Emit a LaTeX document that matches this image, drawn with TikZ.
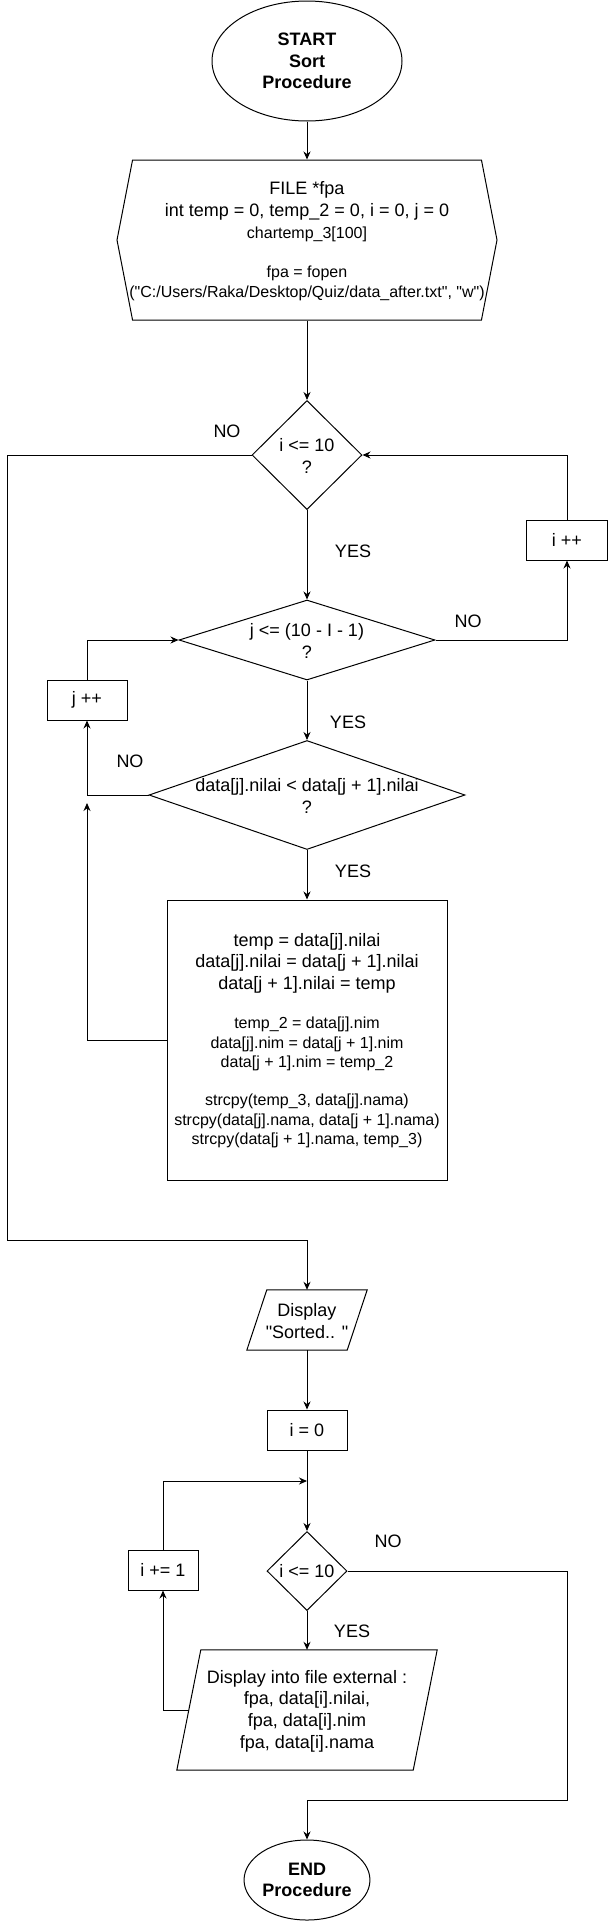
\documentclass[tikz,border=0pt]{standalone}
\usepackage{fontspec}
\setmainfont{Liberation Sans}[Ligatures=TeXOff]
\usetikzlibrary{arrows.meta,positioning,shapes.geometric,shapes.symbols,calc}

\newcommand{\bigtxt}{\fontsize{18}{21.6}\selectfont}
\newcommand{\smalltxt}{\fontsize{16}{19.5}\selectfont}

\tikzset{
  flow/.style={draw, line width=1pt, inner sep=0pt},
  terminal/.style={flow, ellipse, font=\bigtxt\bfseries, align=center},
  procbox/.style={flow, rectangle, font=\bigtxt, align=center},
  decision/.style={flow, diamond},
  iobox/.style={inner sep=0pt},
  arr/.style={line width=1pt, -{Stealth[length=8pt,width=7pt]}},
  lbl/.style={font=\bigtxt, align=center},
  small/.style={font=\smalltxt, align=center},
}

\begin{document}
\begin{tikzpicture}[x=1pt, y=-1pt]
\useasboundingbox (0,0) rectangle (609,1922);
\fill[white] (0,0) rectangle (609,1922);

% start + declarations
\node[terminal, minimum width=190pt, minimum height=120pt] (start) at (307,61) {START\\Sort\\Procedure};

\node[flow, signal, signal to=west and east, signal pointer angle=158, minimum width=380pt, minimum height=160pt] (init) at (307,240) {};
\node[lbl] at (307,201) {FILE *fpa\\ int temp = 0, temp\_2 = 0, i = 0, j = 0};
\node[small] at (307,264) {chartemp\_3[100]\\[19.5pt] fpa = fopen\\ ("C:/Users/Raka/Desktop/Quiz/data\_after.txt", "w")};

% outer loop
\node[decision, minimum width=110pt, minimum height=109pt] (cond1) at (307,455) {};
\node[lbl] at (307,456) {i <= 10\\?};

\node[procbox, minimum width=81pt, minimum height=40pt] (iinc) at (567,540) {i ++};

% inner loop
\node[decision, minimum width=256pt, minimum height=80pt] (cond2) at (307,640) {};
\node[lbl] at (307,641) {j <= (10 - I - 1)\\?};

\node[procbox, minimum width=80pt, minimum height=40pt] (jinc) at (87,700) {j ++};

\node[decision, minimum width=316pt, minimum height=109pt] (cond3) at (307,795) {};
\node[lbl] at (307,796) {data[j].nilai < data[j + 1].nilai\\?};

\node[procbox, minimum width=280pt, minimum height=280pt] (swap) at (307,1040) {};
\node[lbl] at (307,963) {temp = data[j].nilai\\ data[j].nilai = data[j + 1].nilai\\ data[j + 1].nilai = temp};
\node[small] at (307,1044) {temp\_2 = data[j].nim\\ data[j].nim = data[j + 1].nim\\ data[j + 1].nim = temp\_2};
\node[small] at (307,1121) {strcpy(temp\_3, data[j].nama)\\ strcpy(data[j].nama, data[j + 1].nama)\\ strcpy(data[j + 1].nama, temp\_3)};

% output
\node[iobox, minimum width=120pt, minimum height=60pt] (disp) at (307,1320) {};
\draw[line width=1pt] (disp.south west) -- ($(disp.north west)+(20,0)$) -- (disp.north east) -- ($(disp.south east)+(-20,0)$) -- cycle;
\node[lbl] at (307,1321) {Display\\"Sorted.. "};

\node[procbox, minimum width=80pt, minimum height=40pt] (izero) at (307,1430) {i = 0};

\node[decision, minimum width=80pt, minimum height=79pt] (cond4) at (307,1571) {};
\node[lbl] at (307,1571) {i <= 10};

\node[procbox, minimum width=70pt, minimum height=40pt] (ipl) at (163,1570) {i += 1};

\node[iobox, minimum width=260pt, minimum height=120pt] (outp) at (307,1710) {};
\draw[line width=1pt] (outp.south west) -- ($(outp.north west)+(24,0)$) -- (outp.north east) -- ($(outp.south east)+(-24,0)$) -- cycle;
\node[lbl] at (307,1711) {Display into file external :\\ fpa, data[i].nilai,\\ fpa, data[i].nim\\ fpa, data[i].nama};

\node[terminal, minimum width=120pt, minimum height=80pt] (stop) at (307,1880) {END\\Procedure};

\coordinate (nobend) at (7,1240);
\coordinate (nobend2) at (567,1800);
\coordinate (jback) at (87,803);
\coordinate (merge) at (307,1481);

% connectors
\draw[arr] (start) -- (init);
\draw[arr] (init) -- (cond1);
\draw[arr] (cond1) -- (cond2);
\draw[arr] (cond2) -- (cond3);
\draw[arr] (cond3) -- (swap);
\draw[arr] (cond2.east) -| (iinc.south);
\draw[arr] (iinc.north) |- (cond1.east);
\draw[arr] (cond3.west) -| (jinc.south);
\draw[arr] (jinc.north) |- (cond2.west);
\draw[arr] (swap.west) -| (jback);
\draw[arr] (cond1.west) -| (nobend) -| (disp.north);
\draw[arr] (disp) -- (izero);
\draw[arr] (izero) -- (cond4);
\draw[arr] (ipl.north) |- (merge);
\draw[arr] (cond4) -- (outp);
\draw[arr] ($(outp.west)+(12,0)$) -| (ipl.south);
\draw[arr] (cond4.east) -| (nobend2) -| (stop.north);

% labels
\node[lbl] at (227,431) {NO};
\node[lbl] at (353,551) {YES};
\node[lbl] at (468,621) {NO};
\node[lbl] at (348,722) {YES};
\node[lbl] at (130,761) {NO};
\node[lbl] at (353,871) {YES};
\node[lbl] at (388,1541) {NO};
\node[lbl] at (352,1631) {YES};

\end{tikzpicture}
\end{document}
